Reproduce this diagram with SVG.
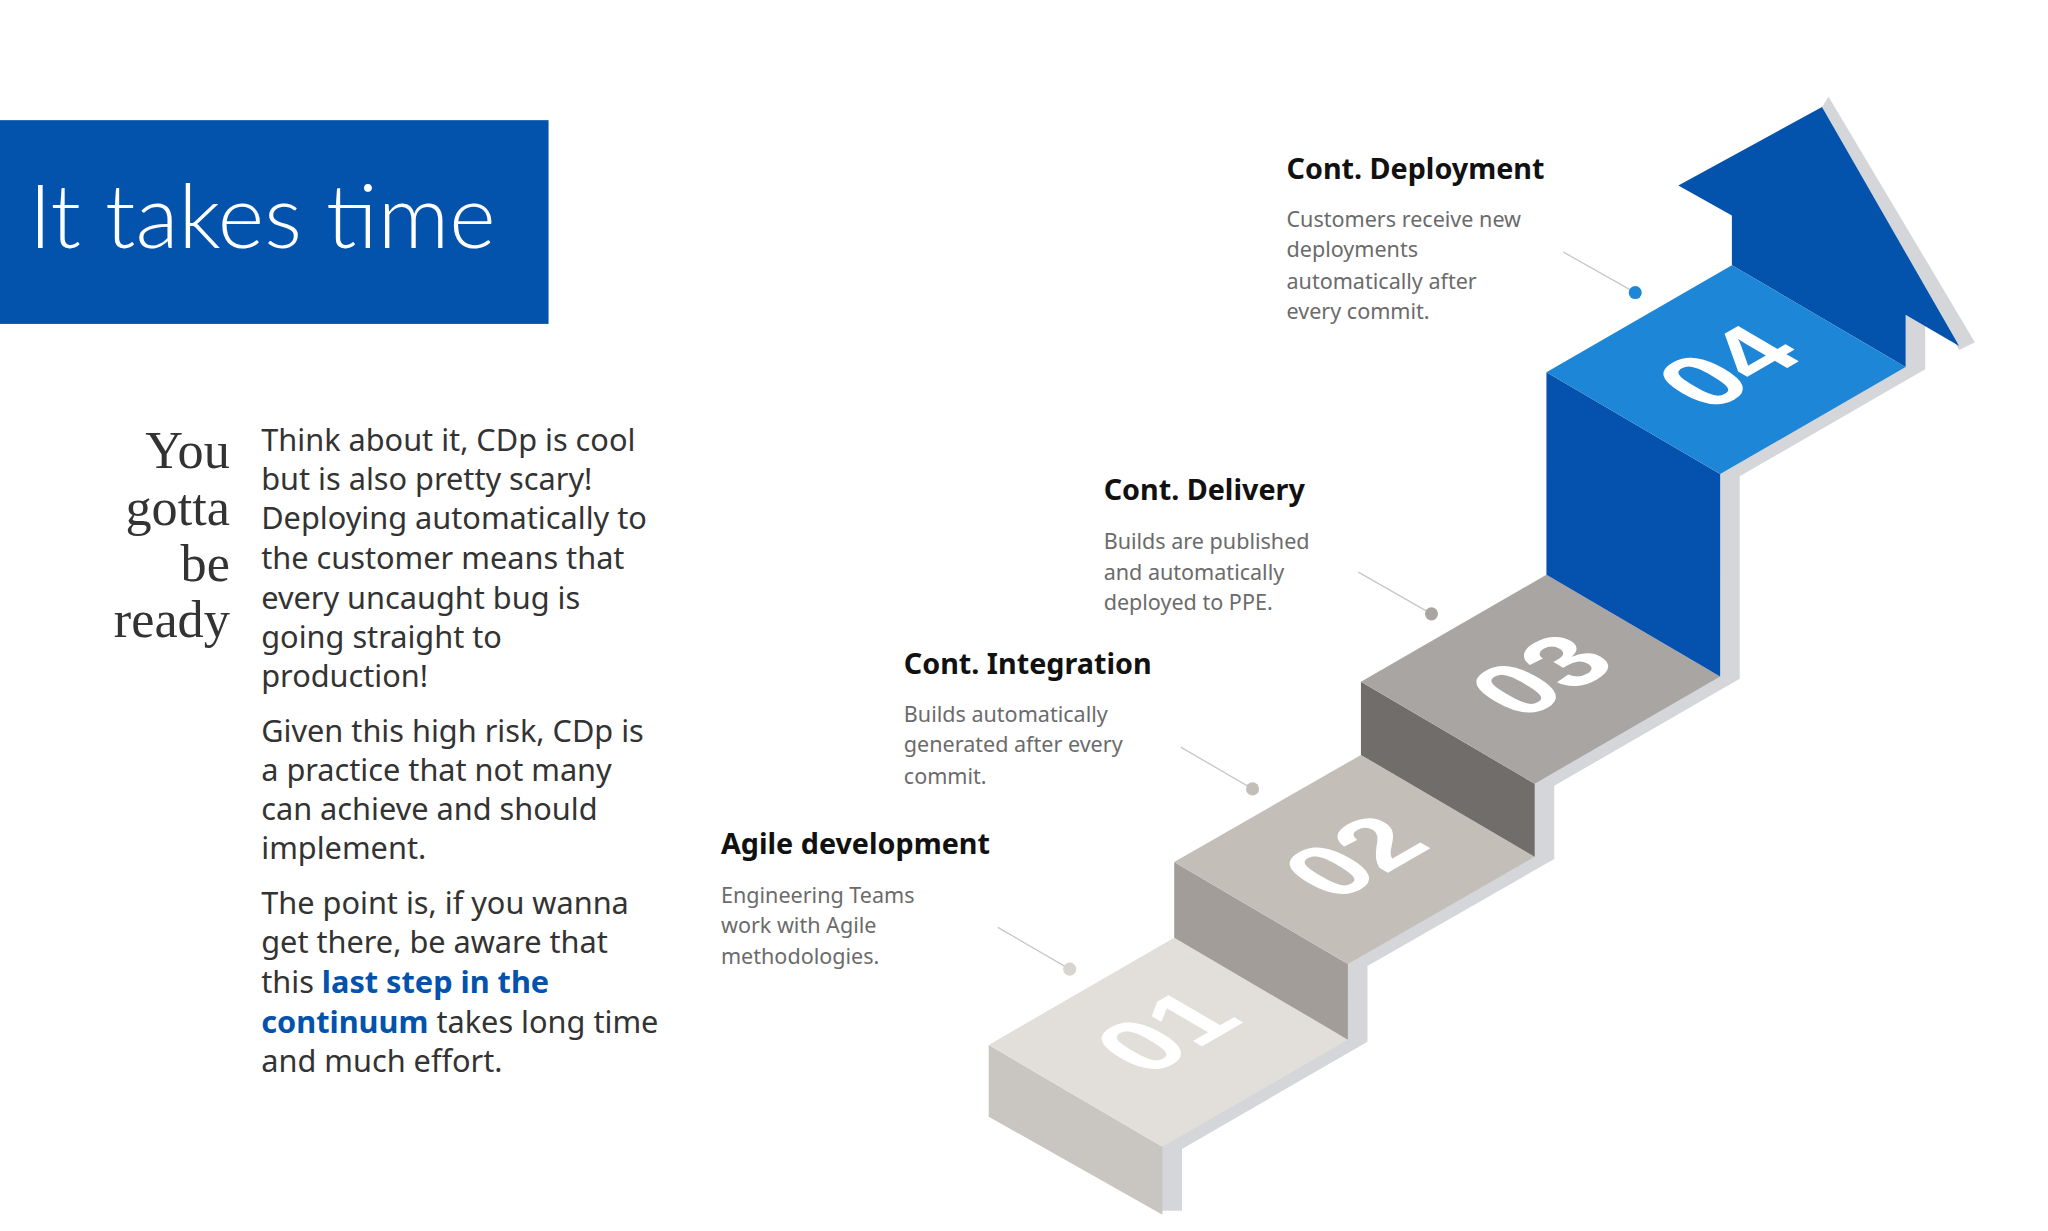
<svg xmlns="http://www.w3.org/2000/svg" width="2048" height="1231" viewBox="0 0 2048 1231">
<style>
.b{font-family:"Noto Sans","Liberation Sans",sans-serif;fill:#333;font-size:23.5px}
.h{font-family:"Noto Sans","Liberation Sans",sans-serif;font-weight:bold;fill:#111;font-size:22px}
.d{font-family:"Noto Sans","Liberation Sans",sans-serif;fill:#6b6b6b;font-size:16.5px}
.s{font-family:"Liberation Serif",serif;fill:#333;font-size:40px}
.n{font-family:"Liberation Sans",sans-serif;font-weight:bold;fill:#fff;font-size:78px}
.l{stroke:#c8c8c8;stroke-width:1}
</style>
<rect width="2048" height="1231" fill="#fff"/>
<g transform="scale(1.3061)">
<g id="title">
<rect x="0" y="92" width="420" height="156" fill="#0353AD"/>
<text x="22" y="190" font-family="Lato,'Open Sans',sans-serif" font-weight="300" font-size="68" fill="#fff">It takes time</text>
</g>
<g id="side" text-anchor="end">
<text class="s" x="176" y="358">You</text>
<text class="s" x="176" y="402">gotta</text>
<text class="s" x="176" y="445">be</text>
<text class="s" x="176" y="488">ready</text>
</g>
<g id="body">
<text class="b" x="200" y="345">Think about it, CDp is cool</text>
<text class="b" x="200" y="375">but is also pretty scary!</text>
<text class="b" x="200" y="405">Deploying automatically to</text>
<text class="b" x="200" y="436">the customer means that</text>
<text class="b" x="200" y="466">every uncaught bug is</text>
<text class="b" x="200" y="496">going straight to</text>
<text class="b" x="200" y="526">production!</text>
<text class="b" x="200" y="568">Given this high risk, CDp is</text>
<text class="b" x="200" y="598">a practice that not many</text>
<text class="b" x="200" y="628">can achieve and should</text>
<text class="b" x="200" y="658">implement.</text>
<text class="b" x="200" y="700">The point is, if you wanna</text>
<text class="b" x="200" y="730">get there, be aware that</text>
<text class="b" x="200" y="760">this <tspan fill="#0353AD" font-weight="bold">last step in the</tspan></text>
<text class="b" x="200" y="791"><tspan fill="#0353AD" font-weight="bold">continuum</tspan> takes long time</text>
<text class="b" x="200" y="821">and much effort.</text>
</g>
<g id="stairs">
<path d="M890,930 V878 L1032,796 V738 L1175,656 V600 L1317,518 V363 L1459,281 V243" fill="none" stroke="#D5D6D9" stroke-width="16" transform="translate(7,-3)"/>
<polygon points="1400,74 1512,262 1500,268 1395,82" fill="#D5D6D9"/>
<polygon points="1326,203 1326,165 1285,142 1395,82 1500,265 1459,241 1459,281" fill="#0353AD"/>
<g id="step1">
<polygon points="757,800 890,878 890,930 757,855" fill="#C9C5C0"/>
<polygon points="757,800 899,718 1032,796 890,878" fill="#E2DFDA"/>
<text class="n" transform="matrix(0.866,-0.5,0.864,0.506,893,790)" text-anchor="middle" dominant-baseline="central">01</text>
</g>
<g id="step2">
<polygon points="899,660 1032,738 1032,796 899,718" fill="#A39D99"/>
<polygon points="899,660 1042,578 1175,656 1032,738" fill="#C4BEB8"/>
<text class="n" transform="matrix(0.866,-0.5,0.864,0.506,1037,656)" text-anchor="middle" dominant-baseline="central">02</text>
</g>
<g id="step3">
<polygon points="1042,522 1175,600 1175,656 1042,578" fill="#716D6B"/>
<polygon points="1042,522 1184,440 1317,518 1175,600" fill="#A9A5A3"/>
<text class="n" transform="matrix(0.866,-0.5,0.864,0.506,1180,517)" text-anchor="middle" dominant-baseline="central">03</text>
</g>
<g id="step4">
<polygon points="1184,285 1317,363 1317,518 1184,440" fill="#0452AD"/>
<polygon points="1184,285 1326,203 1459,281 1317,363" fill="#1E86D6"/>
<text class="n" transform="matrix(0.866,-0.5,0.864,0.506,1323,281)" text-anchor="middle" dominant-baseline="central">04</text>
</g>
</g>
<g id="labels">
<text class="h" x="985" y="137">Cont. Deployment</text>
<text class="d" x="985" y="174">Customers receive new</text>
<text class="d" x="985" y="197">deployments</text>
<text class="d" x="985" y="221">automatically after</text>
<text class="d" x="985" y="244">every commit.</text>
<text class="h" x="845" y="383">Cont. Delivery</text>
<text class="d" x="845" y="420">Builds are published</text>
<text class="d" x="845" y="444">and automatically</text>
<text class="d" x="845" y="467">deployed to PPE.</text>
<text class="h" x="692" y="516">Cont. Integration</text>
<text class="d" x="692" y="553">Builds automatically</text>
<text class="d" x="692" y="576">generated after every</text>
<text class="d" x="692" y="600">commit.</text>
<text class="h" x="552" y="654">Agile development</text>
<text class="d" x="552" y="691">Engineering Teams</text>
<text class="d" x="552" y="714">work with Agile</text>
<text class="d" x="552" y="738">methodologies.</text>
</g>
<g id="connectors">
<line class="l" x1="1197" y1="193" x2="1252" y2="224"/><circle cx="1252" cy="224" r="5" fill="#1E86D6"/>
<line class="l" x1="1040" y1="438" x2="1096" y2="470"/><circle cx="1096" cy="470" r="5" fill="#A9A5A3"/>
<line class="l" x1="904" y1="572" x2="959" y2="604"/><circle cx="959" cy="604" r="5" fill="#C4BEB8"/>
<line class="l" x1="764" y1="710" x2="819" y2="742"/><circle cx="819" cy="742" r="5" fill="#D8D5D0"/>
</g>
</g>
</svg>
